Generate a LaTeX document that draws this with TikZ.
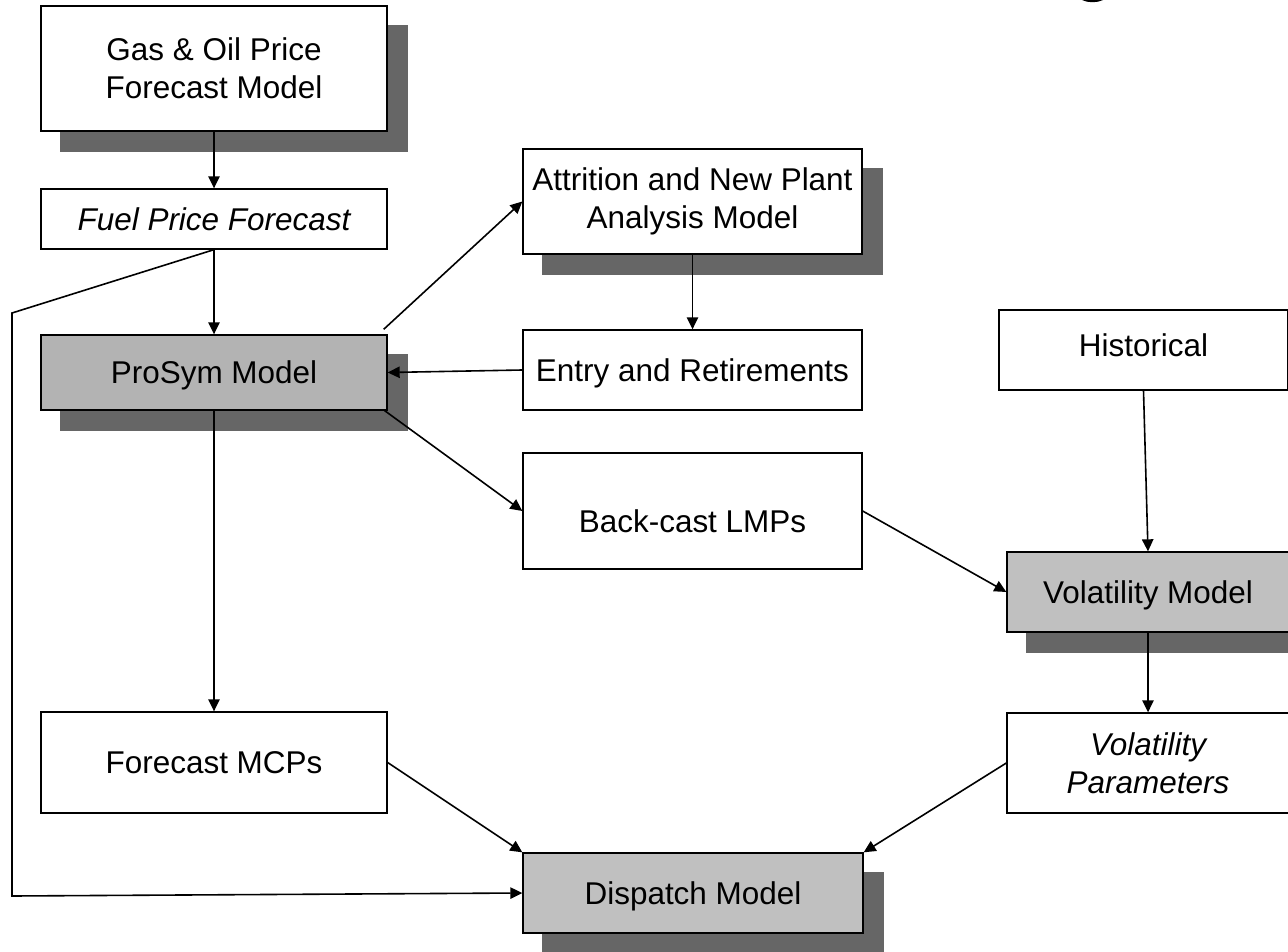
\documentclass[tikz,border=0pt]{standalone}
\usepackage{fontspec}
\setmainfont{Liberation Sans}
\usetikzlibrary{arrows.meta,backgrounds}
\definecolor{shadowc}{HTML}{666666}
\definecolor{grayA}{HTML}{B3B3B3}
\definecolor{grayB}{HTML}{C0C0C0}
\begin{document}
\begin{tikzpicture}[x=0.75pt,y=-0.75pt,
  box/.style={draw=black, line width=1pt, fill=white, rectangle, inner sep=0pt, align=center,
              font=\fontsize{23.6}{28.3}\selectfont},
  one/.style={text height=16.9pt, text depth=0pt},
  conn/.style={line width=1.2pt, -{Triangle[length=9pt,width=8.5pt]}},
]
\useasboundingbox (0,0) rectangle (1288,952);

% boxes
\node[box, minimum width=259.5pt, minimum height=93.75pt] (gas) at (214,68.5) {Gas \& Oil Price\\Forecast Model};
\node[box, one, minimum width=259.5pt, minimum height=45pt, font=\fontsize{23.6}{28.3}\selectfont\itshape] (fuel) at (214,219) {Fuel Price Forecast};
\node[box, one, fill=grayA, minimum width=259.5pt, minimum height=56.25pt] (prosym) at (214,372.5) {ProSym Model};
\node[box, minimum width=254.25pt, minimum height=78.75pt] (attr) at (692.5,201.5) {Attrition and New Plant\\Analysis Model};
\node[box, one, minimum width=254.25pt, minimum height=60pt] (entry) at (692.5,370) {Entry and Retirements};
\node[box, text height=31.9pt, text depth=0pt, minimum width=254.25pt, minimum height=87pt] (back) at (692.5,511) {Back-cast LMPs};
\node[box, text height=16.9pt, text depth=7.5pt, minimum width=216.75pt, minimum height=60pt] (hist) at (1143.5,350) {Historical};
\node[box, one, fill=grayB, minimum width=211.5pt, minimum height=60pt] (vol) at (1148,592) {Volatility Model};
\node[box, minimum width=211.5pt, minimum height=75pt, font=\fontsize{23.6}{28.3}\selectfont\itshape] (volp) at (1148,763) {Volatility\\Parameters};
\node[box, one, minimum width=259.5pt, minimum height=75.75pt] (fmcp) at (214,762.5) {Forecast MCPs};
\node[box, one, fill=grayB, minimum width=255pt, minimum height=60pt] (disp) at (693,893) {Dispatch Model};

% shadows
\begin{scope}[on background layer]
  \foreach \n in {gas,prosym,attr,vol,disp}
    \fill[shadowc] ([shift={(20,20)}]\n.south west) rectangle ([shift={(20,20)}]\n.north east);
\end{scope}

% fragment of a glyph at the top edge
\fill (1082,0) .. controls (1088,3) and (1097,3) .. (1103,0) -- cycle;

% connectors
\coordinate (c1) at (12,313);
\coordinate (c2) at (12,896);
\draw[conn] (gas.south) -- (fuel.north);
\draw[conn] (fuel.south) -- (prosym.north);
\draw[conn] (fuel.south) -- (c1) -- (c2) -- (disp.west);
\draw[conn] ([shift={(-4,-5)}]prosym.north east) -- (attr.west);
\draw[conn] (attr.south) -- (entry.north);
\draw[conn] (entry.west) -- (prosym.east);
\draw[conn] ([shift={(-3,0)}]prosym.south east) -- (back.west);
\draw[conn] (prosym.south) -- (fmcp.north);
\draw[conn] (hist.south) -- (vol.north);
\draw[conn] (back.east) -- (vol.west);
\draw[conn] (vol.south) -- (volp.north);
\draw[conn] (fmcp.east) -- (disp.north west);
\draw[conn] (volp.west) -- (disp.north east);
\end{tikzpicture}
\end{document}
